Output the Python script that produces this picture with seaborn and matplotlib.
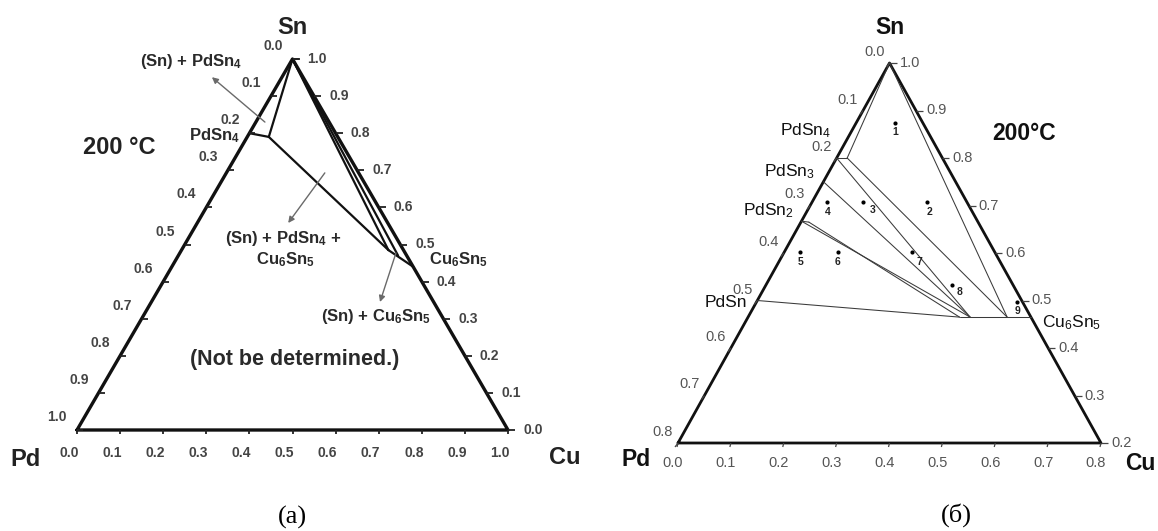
import numpy as np
import pandas as pd
import matplotlib
matplotlib.use("Agg")
import matplotlib.pyplot as plt
from matplotlib.transforms import offset_copy
import seaborn as sns

sns.set_theme(style="white")
plt.rcParams["font.family"] = ["Liberation Sans", "DejaVu Sans"]
plt.rcParams["mathtext.fontset"] = "custom"
plt.rcParams["mathtext.rm"] = "Liberation Sans"
plt.rcParams["mathtext.bf"] = "Liberation Sans:bold"
plt.rcParams["mathtext.it"] = "Liberation Sans:italic"

# ---------------- compositions, mole fractions (Pd, Cu, Sn) ----------------
SN_CORNER = (0.00, 0.00, 1.00)

# (a) full Pd-Cu-Sn triangle, 200 °C
A_PD_CORNER = (1.00, 0.00, 0.00)
A_CU_CORNER = (0.00, 1.00, 0.00)
A_PDSN4 = (0.20, 0.00, 0.80)
A_PDSN4_CU = (0.16, 0.05, 0.79)
A_CU6SN5_PD = (0.035, 0.48, 0.485)
A_CU6SN5_MID = (0.02, 0.51, 0.47)
A_CU6SN5 = (0.00, 0.56, 0.44)
a_phase_lines = [
    (SN_CORNER, A_PDSN4_CU),
    (A_PDSN4, A_PDSN4_CU),
    (A_PDSN4_CU, A_CU6SN5_PD),
    (SN_CORNER, A_CU6SN5_PD),
    (SN_CORNER, A_CU6SN5_MID),
    (A_CU6SN5_PD, A_CU6SN5),
]
a_ticks = [0.0, 0.1, 0.2, 0.3, 0.4, 0.5, 0.6, 0.7, 0.8, 0.9, 1.0]

# (b) Sn-rich part (Sn >= 0.2), 200 °C
B_PD_CORNER = (0.80, 0.00, 0.20)
B_CU_CORNER = (0.00, 0.80, 0.20)
B_PDSN4 = (0.20, 0.00, 0.80)
B_PDSN4_CU = (0.18, 0.02, 0.80)
B_PDSN3 = (0.25, 0.00, 0.75)
B_PDSN2 = (0.333, 0.00, 0.667)
B_PDSN2_CU = (0.32, 0.015, 0.665)
B_PDSN = (0.50, 0.00, 0.50)
B_ETA_1 = (0.135, 0.40, 0.465)
B_ETA_2 = (0.115, 0.42, 0.465)
B_ETA_3 = (0.045, 0.49, 0.465)
B_CU6SN5 = (0.00, 0.535, 0.465)
b_tie_lines = [
    (SN_CORNER, B_PDSN4_CU),
    (B_PDSN4, B_PDSN4_CU),
    (B_PDSN4, B_ETA_2),
    (B_PDSN4_CU, B_ETA_3),
    (B_PDSN3, B_ETA_2),
    (B_PDSN2, B_PDSN2_CU),
    (B_PDSN2, B_ETA_2),
    (B_PDSN2_CU, B_ETA_1),
    (B_PDSN, B_ETA_1),
    (SN_CORNER, B_ETA_3),
    (B_ETA_1, B_CU6SN5),
]
b_left_ticks = [0.0, 0.1, 0.2, 0.3, 0.4, 0.5, 0.6, 0.7, 0.8]
b_right_ticks = [0.2, 0.3, 0.4, 0.5, 0.6, 0.7, 0.8, 0.9, 1.0]
b_bottom_ticks = [0.0, 0.1, 0.2, 0.3, 0.4, 0.5, 0.6, 0.7, 0.8]

# alloy compositions 1-9
sample_ids = ["1", "2", "3", "4", "5", "6", "7", "8", "9"]
sample_pd = [0.053, 0.075, 0.196, 0.264, 0.368, 0.297, 0.157, 0.116, 0.010]
sample_cu = [0.073, 0.218, 0.097, 0.029, 0.030, 0.101, 0.241, 0.351, 0.493]
sample_sn = [0.874, 0.707, 0.707, 0.707, 0.602, 0.602, 0.602, 0.533, 0.497]


def cart(comp):
    """Ternary composition (Pd, Cu, Sn) -> Cartesian (x, y), Pd at left, Cu at right."""
    _, cu, sn = comp
    return cu + sn / 2.0, sn


FIG_W, FIG_H = 1158, 531
fig = plt.figure(figsize=(FIG_W / 100, FIG_H / 100), dpi=100)


def make_panel(x0_px, w_px, left_px, right_px, base_px, apex_px, base_sn, x_left, x_right):
    ax = fig.add_axes([x0_px / FIG_W, 0, w_px / FIG_W, 1])
    sx = (right_px - left_px) / (x_right - x_left)
    sy = (base_px - apex_px) / (1.0 - base_sn)
    ax.set_xlim(x_left - (left_px - x0_px) / sx, x_left + (x0_px + w_px - left_px) / sx)
    ax.set_ylim(base_sn - (FIG_H - base_px) / sy, base_sn + base_px / sy)
    ax.set_axis_off()
    return ax


ax_a = make_panel(0, 579, 77, 508, 430, 59, 0.0, 0.0, 1.0)
ax_a_xlim, ax_a_ylim = ax_a.get_xlim(), ax_a.get_ylim()
ax_b = make_panel(579, 579, 678, 1101, 443, 63, 0.2, 0.1, 0.9)
ax_b_xlim, ax_b_ylim = ax_b.get_xlim(), ax_b.get_ylim()


def put(ax, xy, s, dx=0, dy=0, **kw):
    """Text at data point xy shifted by (dx right, dy down) pixels."""
    tr = offset_copy(ax.transData, fig=fig, x=dx, y=-dy, units="dots")
    ax.text(xy[0], xy[1], s, transform=tr, **kw)


def tick(ax, xy, dx, dy, **kw):
    tr = ax.transData
    p = tr.transform(xy)
    q = p + np.array([dx, -dy])
    pts = tr.inverted().transform(np.vstack([p, q]))
    ax.plot(pts[:, 0], pts[:, 1], solid_capstyle="butt", **kw)


def draw_segments(ax, segments, **kw):
    rows = []
    for i, seg in enumerate(segments):
        for c in seg:
            x, y = cart(c)
            rows.append({"seg": i, "x": x, "y": y})
    df = pd.DataFrame(rows)
    sns.lineplot(data=df, x="x", y="y", units="seg", estimator=None, sort=False,
                 ax=ax, legend=False, **kw)


# ============================ panel (a) ============================
draw_segments(ax_a, [(A_PD_CORNER, A_CU_CORNER, SN_CORNER, A_PD_CORNER)],
              color="#111111", linewidth=2.4)
draw_segments(ax_a, a_phase_lines, color="#111111", linewidth=1.6)

tick_a = dict(color="#222222", lw=1.3)
lab_a = dict(fontsize=10, fontweight="bold", color="#444444")
for v in a_ticks:
    p_left = cart((v, 0.0, 1.0 - v))
    tick(ax_a, p_left, 6, 0, **tick_a)
    put(ax_a, p_left, f"{v:.1f}", -10, -13, ha="right", va="center", **lab_a)
    p_right = cart((0.0, 1.0 - v, v))
    tick(ax_a, p_right, 7, 0, **tick_a)
    put(ax_a, p_right, f"{v:.1f}", 15, 0, ha="left", va="center", **lab_a)
    p_bot = cart((1.0 - v, v, 0.0))
    tick(ax_a, p_bot, 0, 4, **tick_a)
    put(ax_a, p_bot, f"{v:.1f}", -8, 23, ha="center", va="center", **lab_a)

corner_a = dict(fontsize=17, fontweight="bold", color="#222222", ha="center", va="center")
put(ax_a, cart(SN_CORNER), "Sn", 0, -31, **corner_a)
put(ax_a, cart(A_PD_CORNER), "Pd", -51, 29, **corner_a)
put(ax_a, cart(A_CU_CORNER), "Cu", 57, 27, **corner_a)
put(ax_a, cart(SN_CORNER), "200 °C", -173, 89, **corner_a)

ann = dict(fontsize=12, fontweight="bold", color="#2a2a2a", ha="center", va="center")
ax_a.text(0.2645, 0.992, r"(Sn) + PdSn$_\mathbf{4}$", **ann)
put(ax_a, cart(A_PDSN4), r"PdSn$_\mathbf{4}$", -9, 2, **{**ann, "ha": "right"})
ax_a.text(0.478, 0.515, r"(Sn) + PdSn$_\mathbf{4}$ +", **ann)
ax_a.text(0.483, 0.458, r"Cu$_\mathbf{6}$Sn$_\mathbf{5}$", **ann)
ax_a.text(0.884, 0.458, r"Cu$_\mathbf{6}$Sn$_\mathbf{5}$", **ann)
ax_a.text(0.694, 0.305, r"(Sn) + Cu$_\mathbf{6}$Sn$_\mathbf{5}$", **ann)
ax_a.text(0.506, 0.189, "(Not be determined.)", **{**ann, "fontsize": 15.5})

arrow = dict(arrowstyle="-|>", color="#6a6a6a", lw=1.0, mutation_scale=9,
             shrinkA=0, shrinkB=0)
ax_a.annotate("", xy=(0.313, 0.951), xytext=(0.436, 0.830), arrowprops=arrow)
ax_a.annotate("", xy=(0.490, 0.558), xytext=(0.575, 0.693), arrowprops=arrow)
ax_a.annotate("", xy=(0.703, 0.345), xytext=(0.740, 0.477), arrowprops=arrow)

ax_a.text(0.501, -0.2345, "(a)", fontsize=19, family="Liberation Serif",
          ha="center", va="center", color="black")

# ============================ panel (b) ============================
draw_segments(ax_b, [(B_PD_CORNER, B_CU_CORNER, SN_CORNER, B_PD_CORNER)],
              color="#111111", linewidth=2.0)
draw_segments(ax_b, b_tie_lines, color="#3a3a3a", linewidth=0.75)

tick_b = dict(color="#444444", lw=0.9)
lab_b = dict(fontsize=10.5, color="#555555")
for v in b_left_ticks:
    p = cart((v, 0.0, 1.0 - v))
    tick(ax_b, p, -3, 4, **tick_b)
    put(ax_b, p, f"{v:.1f}", -5, -11, ha="right", va="center", **lab_b)
for v in b_right_ticks:
    p = cart((0.0, 1.0 - v, v))
    tick(ax_b, p, 7, 0, **tick_b)
    put(ax_b, p, f"{v:.1f}", 10, 0, ha="left", va="center", **lab_b)
for v in b_bottom_ticks:
    p = cart((0.8 - v, v, 0.2))
    tick(ax_b, p, -1, 4, **tick_b)
    put(ax_b, p, f"{v:.1f}", -5, 20, ha="center", va="center", **lab_b)

corner_b = dict(fontsize=16.5, fontweight="bold", color="#111111", ha="center", va="center")
put(ax_b, cart(SN_CORNER), "Sn", 0, -36, **corner_b)
put(ax_b, cart(B_PD_CORNER), "Pd", -42, 16, **corner_b)
put(ax_b, cart(B_CU_CORNER), "Cu", 39, 20, **corner_b)
put(ax_b, cart(SN_CORNER), "200°C", 135, 70, **corner_b)

ph = dict(fontsize=12.5, color="#111111", va="center")
put(ax_b, cart(B_PDSN4), r"PdSn$_\mathrm{4}$", -6, -27, ha="right", **ph)
put(ax_b, cart(B_PDSN3), r"PdSn$_\mathrm{3}$", -8, -10, ha="right", **ph)
put(ax_b, cart(B_PDSN2), r"PdSn$_\mathrm{2}$", -8, -11, ha="right", **ph)
put(ax_b, cart(B_PDSN), "PdSn", -10, 2, ha="right", **ph)
put(ax_b, cart(B_CU6SN5), r"Cu$_\mathrm{6}$Sn$_\mathrm{5}$", 11, 6, ha="left", **ph)

sx, sy = zip(*[cart(c) for c in zip(sample_pd, sample_cu, sample_sn)])
sns.scatterplot(x=list(sx), y=list(sy), ax=ax_b, s=9, color="black", linewidth=0, legend=False)
label_shift = {"1": (0, 9), "2": (2, 10), "3": (9, 8), "4": (0, 10), "5": (0, 10),
               "6": (0, 10), "7": (8, 10), "8": (8, 7), "9": (0, 9)}
for sid, x, y in zip(sample_ids, sx, sy):
    dx, dy = label_shift[sid]
    put(ax_b, (x, y), sid, dx, dy, fontsize=7.5, fontweight="bold", color="#222222",
        ha="center", va="center")

ax_b.text(0.6258, 0.0484, "(б)", fontsize=19, family="Liberation Serif",
          ha="center", va="center", color="black")

for ax, xl, yl in ((ax_a, ax_a_xlim, ax_a_ylim), (ax_b, ax_b_xlim, ax_b_ylim)):
    ax.set_xlim(*xl)
    ax.set_ylim(*yl)
    ax.set_axis_off()

fig.savefig("out.png", dpi=100, facecolor="white")
